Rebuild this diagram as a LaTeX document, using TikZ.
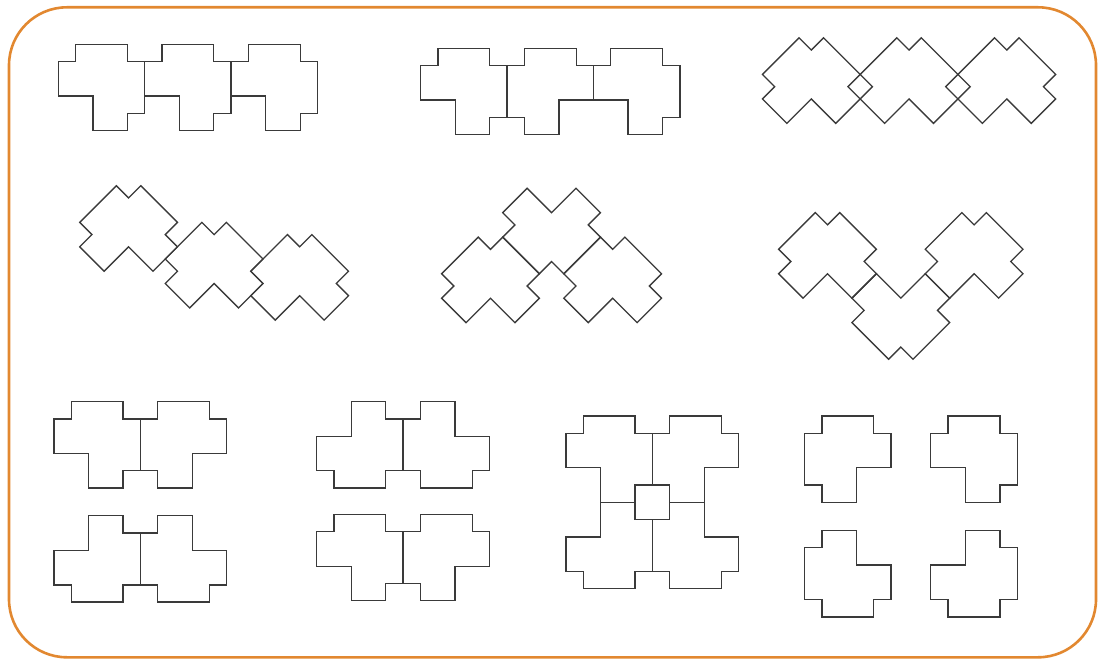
\documentclass[tikz,border=0pt]{standalone}
\usetikzlibrary{positioning}
\definecolor{wallgray}{RGB}{58,58,58}
\definecolor{frameorange}{RGB}{226,136,48}
\tikzset{
  wall/.style={draw=wallgray, line width=1.3pt, line join=miter},
  onecell/.style={x=17.28pt, y=17.28pt},
}
\newcommand{\plan}[2]{%
  \draw[wall, shift={#1}, rotate=#2] (-1.5,2.5) -- (1.5,2.5) -- (1.5,1.5) -- (2.5,1.5)
    -- (2.5,-1.5) -- (1.5,-1.5) -- (1.5,-2.5) -- (-0.5,-2.5) -- (-0.5,-0.5)
    -- (-2.5,-0.5) -- (-2.5,1.5) -- (-1.5,1.5) -- cycle;}
\begin{document}
\begin{tikzpicture}[x=1pt, y=1pt]
\useasboundingbox (0,0) rectangle (1108,659);
\draw[frameorange, line width=2.6pt, rounded corners=58pt] (9,1.7) rectangle (1096,651.7);

\begin{scope}[onecell, shift={(101.5pt,571.5pt)}]
\plan{(0,0)}{0}
\plan{(5,0)}{0}
\plan{(10,0)}{0}
\end{scope}

\begin{scope}[onecell, shift={(463.9pt,567.5pt)}]
\plan{(0,0)}{0}
\plan{(5,0)}{90}
\plan{(10,0)}{0}
\end{scope}

\begin{scope}[onecell, shift={(811.3pt,572.3pt)}, rotate=45]
\plan{(0,0)}{0}
\plan{(4,-4)}{0}
\plan{(8,-8)}{0}
\end{scope}

\begin{scope}[onecell, shift={(128.6pt,424.4pt)}, rotate=45]
\plan{(0,0)}{0}
\plan{(2,-5)}{0}
\plan{(5,-9)}{0}
\end{scope}

\begin{scope}[onecell, shift={(490.5pt,373pt)}, rotate=45]
\plan{(0,0)}{0}
\plan{(5,0)}{180}
\plan{(5,-5)}{0}
\end{scope}

\begin{scope}[onecell, shift={(827.5pt,397.5pt)}, rotate=45]
\plan{(0,0)}{0}
\plan{(1,-5)}{180}
\plan{(6,-6)}{0}
\end{scope}

\begin{scope}[onecell, shift={(97.2pt,214.1pt)}]
\plan{(0,0)}{0}
\plan{(5,0)}{90}
\plan{(0,-6.6)}{270}
\plan{(5,-6.6)}{180}
\end{scope}

\begin{scope}[onecell, shift={(359.9pt,214.1pt)}]
\plan{(0,0)}{270}
\plan{(5,0)}{180}
\plan{(0,-6.52)}{0}
\plan{(5,-6.52)}{90}
\end{scope}

\begin{scope}[onecell, shift={(609.2pt,199.8pt)}]
\plan{(0,0)}{0}
\plan{(5,0)}{90}
\plan{(0,-5)}{270}
\plan{(5,-5)}{180}
\draw[wall] (1.5,-1.5) rectangle (3.5,-3.5);
\end{scope}

\begin{scope}[onecell, shift={(847.8pt,199.8pt)}]
\plan{(0,0)}{90}
\plan{(7.3,0)}{0}
\plan{(0,-6.63)}{180}
\plan{(7.3,-6.63)}{270}
\end{scope}
\end{tikzpicture}
\end{document}
